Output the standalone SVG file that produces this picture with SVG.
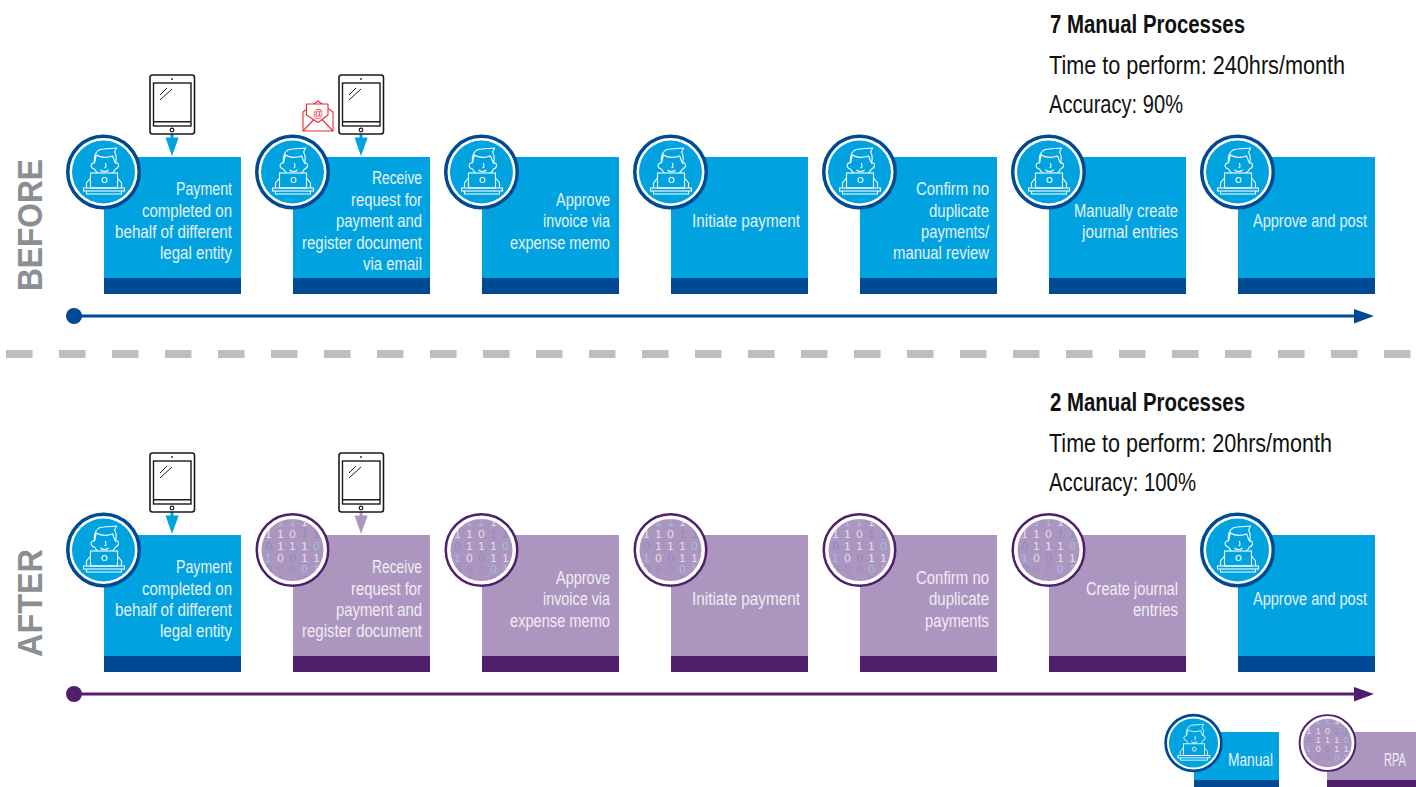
<svg xmlns="http://www.w3.org/2000/svg" xmlns:xlink="http://www.w3.org/1999/xlink" width="1416" height="787" viewBox="0 0 1416 787">
<style>
text{font-family:"Liberation Sans Narrow","Liberation Sans","Noto Sans",sans-serif}
.t{fill:#e6f1fa;font-size:17.5px;text-anchor:end}
.p{fill:#f1ecf5;font-size:17.5px;text-anchor:end}
.h{fill:#111;font-size:26px}
.b{font-weight:700}
.side{fill:#8b8f93;font-size:35px;font-weight:700;font-family:"Liberation Sans",sans-serif;text-anchor:middle}
.bin{font-family:"DejaVu Sans Mono","Liberation Mono",monospace;font-size:11.5px;text-anchor:middle}
.ln{fill:none;stroke:#fff;stroke-width:1.1}
.tab{fill:none;stroke:#1b1b1b}
</style>
<defs>
<clipPath id="cc"><circle r="31"/></clipPath>
<g id="man">
<circle r="35.750" fill="#fff" stroke="#004a93" stroke-width="3.500"/>
<circle r="31.500" fill="#00a3e0"/>
<g class="ln">
<path d="M-9-9C-10-17-7-23 0-23L13-24C12-22 12-21 11-20C13-17 13-13 12-9C10-12 10-15 9-16C4-14-3-14-7-17C-8-15-8-12-9-9Z"/>
<path d="M-9-9C-13-10-14-4-9-3M12-9C16-10 16-4 12-3"/>
<path d="M-9-3C-8-1-7 0-6 1M12-3C11-1 10 0 9 1M2-9L2.500-5 1-4M-3-2C-1 0 3 0 5-2"/>
<rect x="-13" y="1" width="27" height="15"/>
<circle cx="1" cy="8" r="2.500"/>
<path d="M-13 6L-17 11V16M14 6L18 11V16"/>
<rect x="-20" y="16" width="41" height="3"/>
<path d="M-17 19V22H18V19"/>
</g>
</g>
<g id="rpa">
<circle r="35.750" fill="#fff" stroke="#4f1f6b" stroke-width="2.500"/>
<circle r="31" fill="#ac96bf"/>
<g class="bin" clip-path="url(#cc)">
<text x="-12" y="-24" fill="#9fc0e4">1</text><text y="-24" fill="#9fc0e4">1</text><text x="12" y="-24" fill="#e6e0ee">1</text>
<text x="-24" y="-12" fill="#e6e0ee">1</text><text x="-12" y="-12" fill="#e6e0ee">1</text><text y="-12" fill="#e6e0ee">0</text><text x="12" y="-12" fill="#7f8fc8">1</text><text x="24" y="-12" fill="#7f8fc8">1</text>
<text x="-24" y="0" fill="#7f8fc8">0</text><text x="-12" y="0" fill="#e6e0ee">1</text><text y="0" fill="#e6e0ee">1</text><text x="12" y="0" fill="#e6e0ee">1</text><text x="24" y="0" fill="#9fc0e4">0</text>
<text x="-24" y="12" fill="#9fc0e4">1</text><text x="-12" y="12" fill="#e6e0ee">0</text><text y="12" fill="#7f8fc8">0</text><text x="12" y="12" fill="#e6e0ee">1</text><text x="24" y="12" fill="#e6e0ee">1</text>
<text x="-24" y="23" fill="#7f8fc8">0</text><text x="-12" y="23" fill="#9a8fc4">0</text><text y="23" fill="#9a8fc4">0</text><text x="12" y="23" fill="#9fc0e4">0</text><text x="24" y="23" fill="#9fc0e4">1</text>
<text x="-12" y="34" fill="#9a8fc4">1</text><text x="12" y="34" fill="#9a8fc4">0</text>
</g>
</g>
<g id="tablet">
<rect x="150" y="75" width="44.500" height="59" rx="2.500" fill="#fff" class="tab" stroke-width="1.600"/>
<rect x="153.500" y="83" width="37.500" height="43" fill="#fff" class="tab" stroke-width="1.400"/>
<path d="M153.500 121.700H191" class="tab" stroke-width="1.400"/>
<circle cx="172" cy="130" r="1.800" fill="#fff" class="tab" stroke-width="1.200"/>
<circle cx="172" cy="79" r=".9" fill="#1b1b1b"/>
<path d="M160 95L167 88M160 100L172 89" class="tab" stroke-width="1"/>
</g>
<g id="bluebox"><rect width="137" height="121" fill="#00a3e0"/><rect y="121" width="137" height="16" fill="#004a93"/></g>
<g id="purplebox"><rect width="137" height="121" fill="#ac96bf"/><rect y="121" width="137" height="16" fill="#4f1f6b"/></g>
</defs>

<g id="divider"><path d="M6 354H1413" stroke="#bcbec0" stroke-width="8" stroke-dasharray="26.500 26.500" fill="none"/></g>
<text class="side" transform="translate(42 225) rotate(-90)" textLength="132" lengthAdjust="spacingAndGlyphs">BEFORE</text>
<text class="side" transform="translate(42 603) rotate(-90)" textLength="108" lengthAdjust="spacingAndGlyphs">AFTER</text>

<g id="connectors">
<path d="M74 316H1356" stroke="#004a93" stroke-width="3" fill="none"/><circle cx="74" cy="316" r="8" fill="#004a93"/><path d="M1354 309L1374 316 1354 323.500Z" fill="#004a93"/>
<path d="M74 694H1356" stroke="#4f1f6b" stroke-width="3" fill="none"/><circle cx="74" cy="694" r="8" fill="#4f1f6b"/><path d="M1354 687L1374 694 1354 701.500Z" fill="#4f1f6b"/>
<path d="M165.500 137.500H178.700L172 156Z" fill="#00a3e0"/><path d="M172 134V139" stroke="#00a3e0" stroke-width="3"/>
<path d="M354.500 137.500H367.700L361 156Z" fill="#00a3e0"/><path d="M361 134V139" stroke="#00a3e0" stroke-width="3"/>
<path d="M165.500 515.500H178.700L172 534Z" fill="#00a3e0"/><path d="M172 512V517" stroke="#00a3e0" stroke-width="3"/>
<path d="M354.500 515.500H367.700L361 534Z" fill="#ac96bf"/><path d="M361 512V517" stroke="#ac96bf" stroke-width="3"/>
</g>

<g id="b1"><use href="#bluebox" x="104" y="157"/><use href="#man" x="103.500" y="172"/><use href="#tablet"/>
<text class="t" x="232" y="195" textLength="56" lengthAdjust="spacingAndGlyphs">Payment</text><text class="t" x="232" y="217" textLength="90" lengthAdjust="spacingAndGlyphs">completed on</text><text class="t" x="232" y="238" textLength="117" lengthAdjust="spacingAndGlyphs">behalf of different</text><text class="t" x="232" y="259" textLength="72" lengthAdjust="spacingAndGlyphs">legal entity</text></g>
<g id="b2"><use href="#bluebox" x="293" y="157"/><use href="#man" x="292.500" y="172"/><use href="#tablet" x="189"/>
<g fill="#fff" stroke="#ee2a35" stroke-width="1.100" stroke-linejoin="round"><path d="M303 112L318 101 333 112V131H303Z"/><path d="M306.500 115V104H328V115L318 122.500Z"/><path d="M303 131L314 119.500M333 131L322 119.500" fill="none"/></g>
<text x="318" y="116.500" text-anchor="middle" style="font-family:'Liberation Sans',sans-serif;font-size:10px;fill:#ee2a35">@</text>
<text class="t" x="422" y="184" textLength="50" lengthAdjust="spacingAndGlyphs">Receive</text><text class="t" x="422" y="206" textLength="71" lengthAdjust="spacingAndGlyphs">request for</text><text class="t" x="422" y="227" textLength="86" lengthAdjust="spacingAndGlyphs">payment and</text><text class="t" x="422" y="249" textLength="120" lengthAdjust="spacingAndGlyphs">register document</text><text class="t" x="422" y="270" textLength="59" lengthAdjust="spacingAndGlyphs">via email</text></g>
<g id="b3"><use href="#bluebox" x="482" y="157"/><use href="#man" x="481.500" y="172"/>
<text class="t" x="610" y="206" textLength="54" lengthAdjust="spacingAndGlyphs">Approve</text><text class="t" x="610" y="227" textLength="67" lengthAdjust="spacingAndGlyphs">invoice via</text><text class="t" x="610" y="249" textLength="100" lengthAdjust="spacingAndGlyphs">expense memo</text></g>
<g id="b4"><use href="#bluebox" x="671" y="157"/><use href="#man" x="670.500" y="172"/>
<text class="t" x="800" y="227" textLength="108" lengthAdjust="spacingAndGlyphs">Initiate payment</text></g>
<g id="b5"><use href="#bluebox" x="860" y="157"/><use href="#man" x="859.500" y="172"/>
<text class="t" x="989" y="195" textLength="73" lengthAdjust="spacingAndGlyphs">Confirm no</text><text class="t" x="989" y="217" textLength="60" lengthAdjust="spacingAndGlyphs">duplicate</text><text class="t" x="989" y="238" textLength="68" lengthAdjust="spacingAndGlyphs">payments/</text><text class="t" x="989" y="259" textLength="96" lengthAdjust="spacingAndGlyphs">manual review</text></g>
<g id="b6"><use href="#bluebox" x="1049" y="157"/><use href="#man" x="1048.500" y="172"/>
<text class="t" x="1178" y="217" textLength="104" lengthAdjust="spacingAndGlyphs">Manually create</text><text class="t" x="1178" y="238" textLength="96" lengthAdjust="spacingAndGlyphs">journal entries</text></g>
<g id="b7"><use href="#bluebox" x="1238" y="157"/><use href="#man" x="1237.500" y="172"/>
<text class="t" x="1367" y="227" textLength="114" lengthAdjust="spacingAndGlyphs">Approve and post</text></g>

<g id="before-stats"><text class="h b" x="1050" y="33" textLength="195" lengthAdjust="spacingAndGlyphs">7 Manual Processes</text><text class="h" x="1049" y="74" textLength="296" lengthAdjust="spacingAndGlyphs">Time to perform: 240hrs/month</text><text class="h" x="1049" y="113" textLength="134" lengthAdjust="spacingAndGlyphs">Accuracy: 90%</text></g>

<g id="a1"><use href="#bluebox" x="104" y="535"/><use href="#man" x="103.500" y="550"/><use href="#tablet" y="378"/>
<text class="t" x="232" y="573" textLength="56" lengthAdjust="spacingAndGlyphs">Payment</text><text class="t" x="232" y="595" textLength="90" lengthAdjust="spacingAndGlyphs">completed on</text><text class="t" x="232" y="616" textLength="117" lengthAdjust="spacingAndGlyphs">behalf of different</text><text class="t" x="232" y="637" textLength="72" lengthAdjust="spacingAndGlyphs">legal entity</text></g>
<g id="a2"><use href="#purplebox" x="293" y="535"/><use href="#rpa" x="292.500" y="550"/><use href="#tablet" x="189" y="378"/>
<text class="p" x="422" y="573" textLength="50" lengthAdjust="spacingAndGlyphs">Receive</text><text class="p" x="422" y="595" textLength="71" lengthAdjust="spacingAndGlyphs">request for</text><text class="p" x="422" y="616" textLength="86" lengthAdjust="spacingAndGlyphs">payment and</text><text class="p" x="422" y="637" textLength="120" lengthAdjust="spacingAndGlyphs">register document</text></g>
<g id="a3"><use href="#purplebox" x="482" y="535"/><use href="#rpa" x="481.500" y="550"/>
<text class="p" x="610" y="584" textLength="54" lengthAdjust="spacingAndGlyphs">Approve</text><text class="p" x="610" y="605" textLength="67" lengthAdjust="spacingAndGlyphs">invoice via</text><text class="p" x="610" y="627" textLength="100" lengthAdjust="spacingAndGlyphs">expense memo</text></g>
<g id="a4"><use href="#purplebox" x="671" y="535"/><use href="#rpa" x="670.500" y="550"/>
<text class="p" x="800" y="605" textLength="108" lengthAdjust="spacingAndGlyphs">Initiate payment</text></g>
<g id="a5"><use href="#purplebox" x="860" y="535"/><use href="#rpa" x="859.500" y="550"/>
<text class="p" x="989" y="584" textLength="73" lengthAdjust="spacingAndGlyphs">Confirm no</text><text class="p" x="989" y="605" textLength="60" lengthAdjust="spacingAndGlyphs">duplicate</text><text class="p" x="989" y="627" textLength="64" lengthAdjust="spacingAndGlyphs">payments</text></g>
<g id="a6"><use href="#purplebox" x="1049" y="535"/><use href="#rpa" x="1048.500" y="550"/>
<text class="p" x="1178" y="595" textLength="92" lengthAdjust="spacingAndGlyphs">Create journal</text><text class="p" x="1178" y="616" textLength="45" lengthAdjust="spacingAndGlyphs">entries</text></g>
<g id="a7"><use href="#bluebox" x="1238" y="535"/><use href="#man" x="1237.500" y="550"/>
<text class="t" x="1367" y="605" textLength="114" lengthAdjust="spacingAndGlyphs">Approve and post</text></g>

<g id="after-stats"><text class="h b" x="1050" y="411" textLength="195" lengthAdjust="spacingAndGlyphs">2 Manual Processes</text><text class="h" x="1049" y="452" textLength="283" lengthAdjust="spacingAndGlyphs">Time to perform: 20hrs/month</text><text class="h" x="1049" y="491" textLength="147" lengthAdjust="spacingAndGlyphs">Accuracy: 100%</text></g>

<g id="legend-manual"><rect x="1194" y="732" width="85" height="48" fill="#00a3e0"/><rect x="1194" y="780" width="85" height="7" fill="#004a93"/><use href="#man" transform="translate(1193.500 743) scale(.78)"/>
<text class="t" x="1273" y="766" textLength="45" lengthAdjust="spacingAndGlyphs">Manual</text></g>
<g id="legend-rpa"><rect x="1327" y="732" width="89" height="48" fill="#ac96bf"/><rect x="1327" y="780" width="89" height="7" fill="#4f1f6b"/><use href="#rpa" transform="translate(1327.500 743) scale(.78)"/>
<text class="p" x="1406" y="766" textLength="22" lengthAdjust="spacingAndGlyphs">RPA</text></g>
</svg>
